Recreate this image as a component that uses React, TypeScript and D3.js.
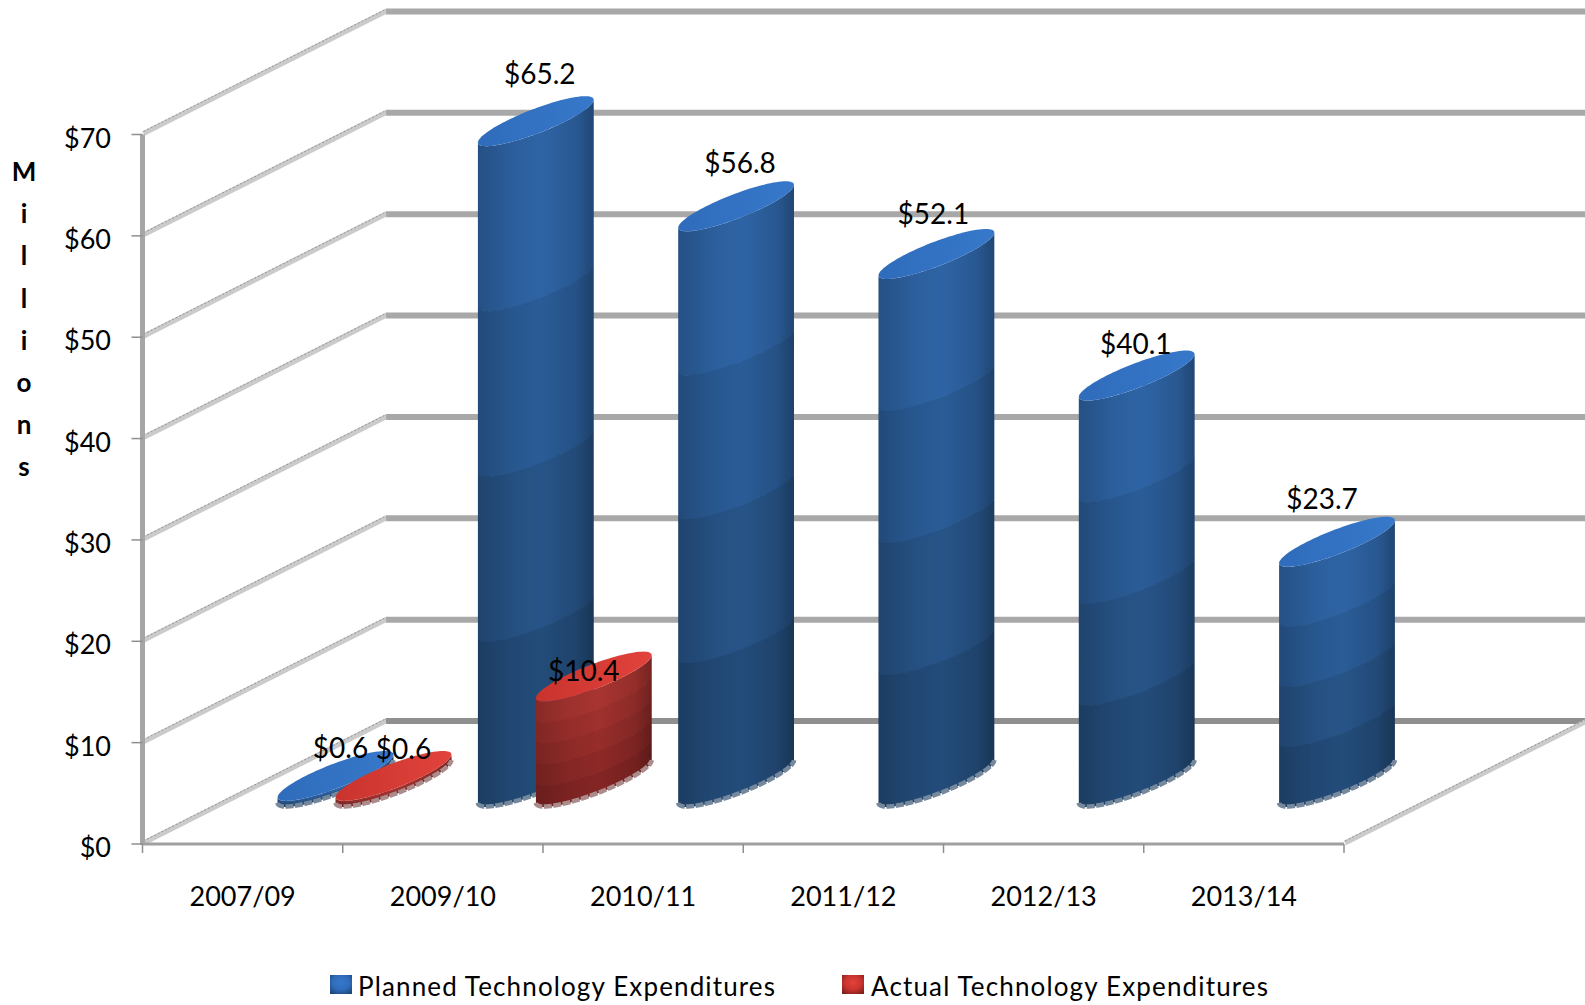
import React from "react";
import * as d3 from "d3";

const categories = ["2007/09", "2009/10", "2010/11", "2011/12", "2012/13", "2013/14"];
const planned = [0.6, 65.2, 56.8, 52.1, 40.1, 23.7];
const actual: (number | null)[] = [0.6, 10.4, null, null, null, null];
const yTicks = [0, 10, 20, 30, 40, 50, 60, 70];
const axisTitle = "Millions".split("");
const legendLabels = ["Planned Technology Expenditures", "Actual Technology Expenditures"];

// label nudges [dx, dy] relative to the top centre of each column
const plannedNudge = [[5, -28], [4, -47], [4, -43], [-3, -40], [-1, -32], [-15, -43]];
const actualNudge = [[10, -27], [-10, -6]];

const FONT = "Lato, 'Open Sans', sans-serif";

const W = 1585, H = 1005;
const y = d3.scaleLinear().domain([0, 70]).range([844, 134.5]);
const xTick = d3.scaleLinear().domain([0, 6]).range([142.5, 1344]);
const depthX = 243, depthY = 123;
const xPlanned = d3.scaleLinear().domain([0, 5]).range([335.5, 1337]);
const actualOffset = 58;
const baseY = 782;
const barH = (v: number) => y(0) - y(v);

// column cross-section: sheared circle
const A = 30, BX = 49.5, BY = 25;
const t0 = Math.atan2(BX, A);
const pt = (cx: number, cy: number, t: number): [number, number] => [
  cx + A * Math.cos(t) + BX * Math.sin(t),
  cy - BY * Math.sin(t),
];
const lineGen = d3.line();
const closedLine = d3.line().curve(d3.curveLinearClosed);
const angles = d3.range(0, 49).map((i) => t0 + Math.PI + (i / 48) * Math.PI);
const frontArc = (cx: number, cy: number) => angles.map((t) => pt(cx, cy, t));
const allAround = (cx: number, cy: number) => d3.range(0, 96).map((i) => pt(cx, cy, (i / 96) * 2 * Math.PI));
const band = (cx: number, yTop: number, yBot: number) =>
  closedLine([...frontArc(cx, yTop), ...frontArc(cx, yBot).reverse()]) as string;

function Column({ cx, value, id, colors, rim, nBands }: any) {
  const topY = baseY - barH(value);
  const shade = d3.interpolateRgb(colors[0], colors[1]);
  const h = barH(value);
  return (
    <g>
      {d3.range(nBands).map((k: number) => (
        <path
          key={k}
          d={band(cx, topY + (k / nBands) * h, topY + ((k + 1) / nBands) * h + (k < nBands - 1 ? 0.6 : 0))}
          fill={shade(k / (nBands - 1))}
        />
      ))}
      <path d={band(cx, topY, baseY)} fill={`url(#${id}-shade)`} />
      <path
        d={lineGen(frontArc(cx, baseY - 0.5)) as string}
        fill="none"
        stroke={rim}
        strokeWidth={4.5}
        strokeDasharray="8 1.5"
      />
      <path d={closedLine(allAround(cx, topY)) as string} fill={`url(#${id}-top)`} />
    </g>
  );
}

export default function App() {
  const backLeft = xTick(0) + depthX;
  return (
    <svg
      width={W}
      height={H}
      viewBox={`0 0 ${W} ${H}`}
      style={{ position: "absolute", left: 0, top: 0, display: "block", background: "#fff" }}
      fontFamily={FONT}
    >
      <defs>
        {[
          ["blue", "#2f6cbb", "#3778ca"],
          ["red", "#c9332e", "#e2433c"],
        ].map(([id, a, b]) => (
          <React.Fragment key={id}>
            <linearGradient id={`${id}-shade`} x1="0" x2="1" y1="0" y2="0">
              <stop offset="0" stopColor="#000" stopOpacity={0.2} />
              <stop offset="0.3" stopColor="#000" stopOpacity={0.06} />
              <stop offset="0.55" stopColor="#000" stopOpacity={0} />
              <stop offset="0.85" stopColor="#000" stopOpacity={0.12} />
              <stop offset="1" stopColor="#000" stopOpacity={0.3} />
            </linearGradient>
            <linearGradient id={`${id}-top`} x1="0" x2="1" y1="0" y2="0">
              <stop offset="0" stopColor={a} />
              <stop offset="1" stopColor={b} />
            </linearGradient>
            <radialGradient id={`${id}-swatch`} cx="0.5" cy="0.4" r="0.7">
              <stop offset="0" stopColor={b} />
              <stop offset="0.55" stopColor={a} />
              <stop offset="1" stopColor={id === "blue" ? "#1d4778" : "#7a1f1c"} />
            </radialGradient>
          </React.Fragment>
        ))}
      </defs>

      {/* back wall */}
      {yTicks.map((v) => (
        <line
          key={v}
          x1={backLeft}
          x2={W}
          y1={y(v) - depthY}
          y2={y(v) - depthY}
          stroke={v === 0 ? "#8f8f8f" : "#a8a8a8"}
          strokeWidth={6}
        />
      ))}

      {/* side wall and floor edges */}
      {yTicks.map((v) => (
        <g key={v}>
          <line x1={xTick(0) + 1} y1={y(v) - 1} x2={backLeft} y2={y(v) - depthY} stroke="#cbcbcb" strokeWidth={5} />
          <line x1={xTick(0) + 1} y1={y(v) - 3} x2={backLeft} y2={y(v) - depthY - 2} stroke="#929292" strokeWidth={1} strokeDasharray="2 2" />
        </g>
      ))}
      <line x1={xTick(6) + 1} y1={y(0) - 1} x2={xTick(6) + depthX} y2={y(0) - depthY} stroke="#cbcbcb" strokeWidth={5} />
      <line x1={xTick(6) + 1} y1={y(0) - 3} x2={xTick(6) + depthX} y2={y(0) - depthY - 2} stroke="#929292" strokeWidth={1} strokeDasharray="2 2" />

      {/* axes */}
      <line x1={xTick(0)} x2={xTick(0)} y1={y(70)} y2={y(0) + 1} stroke="#a6a6a6" strokeWidth={5} />
      <line x1={xTick(0)} x2={xTick(6)} y1={y(0)} y2={y(0)} stroke="#a0a0a0" strokeWidth={3} />
      {yTicks.map((v) => (
        <line key={v} x1={xTick(0) - 11} x2={xTick(0)} y1={y(v)} y2={y(v)} stroke="#8f8f8f" strokeWidth={1.5} />
      ))}
      {d3.range(7).map((i) => (
        <line key={i} x1={xTick(i)} x2={xTick(i)} y1={y(0)} y2={y(0) + 9} stroke="#8f8f8f" strokeWidth={1.5} />
      ))}

      {/* columns */}
      {categories.map((c, i) => (
        <g key={c}>
          <Column cx={xPlanned(i)} value={planned[i]} id="blue" colors={["#2e64a5", "#234c7a"]} rim="#76889b" nBands={4} />
          {actual[i] != null && (
            <Column
              cx={xPlanned(i) + actualOffset}
              value={actual[i]}
              id="red"
              colors={["#a83430", "#842524"]}
              rim="#a98c8b"
              nBands={5}
            />
          )}
        </g>
      ))}

      {/* data labels */}
      <g fontSize={28} fill="#000" textAnchor="middle">
        {planned.map((v, i) => (
          <text key={i} x={xPlanned(i) + plannedNudge[i][0]} y={baseY - barH(v) + plannedNudge[i][1] + 10}>
            {`$${v.toFixed(1)}`}
          </text>
        ))}
        {actual.map((v, i) =>
          v == null ? null : (
            <text key={i} x={xPlanned(i) + actualOffset + actualNudge[i][0]} y={baseY - barH(v) + actualNudge[i][1] + 10}>
              {`$${v.toFixed(1)}`}
            </text>
          )
        )}
      </g>

      {/* axis labels */}
      <g fontSize={27} fill="#000" textAnchor="end">
        {yTicks.map((v) => (
          <text key={v} x={111} y={y(v) + 13}>{`$${v}`}</text>
        ))}
      </g>
      <g fontSize={27} fill="#000" textAnchor="middle">
        {categories.map((c, i) => (
          <text key={c} x={(xTick(i) + xTick(i + 1)) / 2} y={906}>
            {c}
          </text>
        ))}
      </g>
      <g fontSize={26} fontWeight={700} fill="#000" textAnchor="middle">
        {axisTitle.map((ch, i) => (
          <text key={i} x={24} y={181 + i * 42.2}>
            {ch}
          </text>
        ))}
      </g>

      {/* legend */}
      {legendLabels.map((l, i) => {
        const sx = [330, 842][i];
        const tx = [358, 871][i];
        const tw = [417, 397][i];
        return (
          <g key={l}>
            <rect x={sx} y={975} width={22} height={19} fill={`url(#${i === 0 ? "blue" : "red"}-swatch)`} />
            <text x={tx} y={996} fontSize={26} fill="#000" textLength={tw} lengthAdjust="spacing">
              {l}
            </text>
          </g>
        );
      })}
    </svg>
  );
}
